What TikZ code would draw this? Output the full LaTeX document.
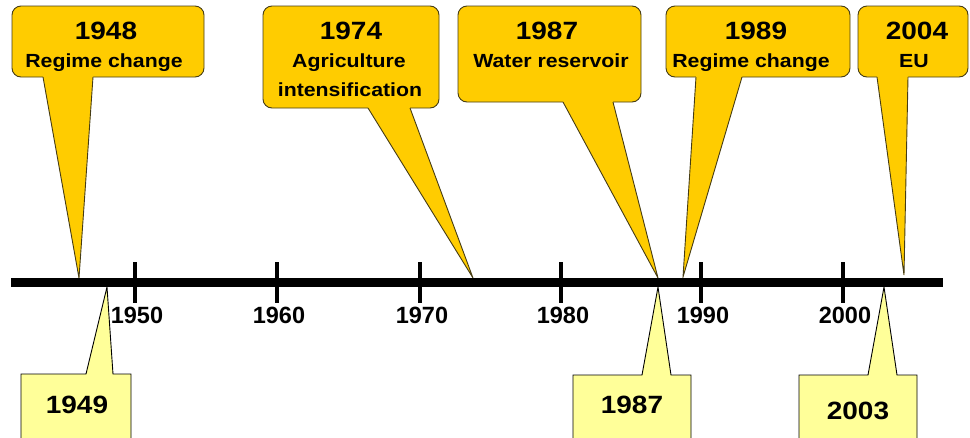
\documentclass[tikz,border=0pt]{standalone}
\usepackage{fontspec}
\setmainfont{Liberation Sans}
\newfontfamily\boxfont{Liberation Sans}[FakeStretch=1.12]
\definecolor{calloutgold}{RGB}{255,204,0}
\definecolor{calloutpale}{RGB}{255,255,153}
\definecolor{calloutedge}{RGB}{70,60,20}

\begin{document}
\begin{tikzpicture}[x=1pt, y=-1pt,
    topbox/.style={draw=calloutedge, fill=calloutgold, line width=0.9pt},
    pointer/.style={draw=calloutedge, line width=0.9pt},
    botbox/.style={draw=black, fill=calloutpale, line width=0.9pt},
    yearbig/.style={font=\boxfont\bfseries\fontsize{25}{28}\selectfont, anchor=base, inner sep=0pt},
    eventtxt/.style={font=\boxfont\bfseries\fontsize{19}{22}\selectfont, anchor=base, inner sep=0pt},
    yearlow/.style={font=\boxfont\bfseries\fontsize{25}{28}\selectfont, anchor=base, inner sep=0pt},
    ticklab/.style={font=\bfseries\fontsize{23.5}{26}\selectfont, anchor=base, inner sep=0pt}]
    \useasboundingbox (0,0) rectangle (970,437);
    % pointer tips on the time axis
    \coordinate (p1948) at (79,278);
    \coordinate (p1974) at (473,278);
    \coordinate (p1987) at (658,278);
    \coordinate (p1989) at (683,277);
    \coordinate (p2004) at (904,275);
    \coordinate (q1949) at (107,287);
    \coordinate (q1987) at (658,287);
    \coordinate (q2003) at (884,287);
    % 1948
    \draw[topbox, rounded corners=9pt] (12,6) rectangle (204,77);
    \fill[calloutgold] (43,77) -- (p1948) -- (93,77) -- (93,74) -- (43,74) -- cycle;
    \draw[pointer] (43,77) -- (p1948) -- (93,77);
    \node[yearbig] (y1948) at (106,39) {1948};
    \node[eventtxt] (e1948) at (104,67) {Regime change};
    % 1974
    \draw[topbox, rounded corners=9pt] (263,6) rectangle (439,108);
    \fill[calloutgold] (368,108) -- (p1974) -- (410,108) -- (410,105) -- (368,105) -- cycle;
    \draw[pointer] (368,108) -- (p1974) -- (410,108);
    \node[yearbig] (y1974) at (351,39) {1974};
    \node[eventtxt] (e1974a) at (349,67) {Agriculture};
    \node[eventtxt] (e1974b) at (350,96) {intensification};
    % 1987
    \draw[topbox, rounded corners=9pt] (458,6) rectangle (641,102);
    \fill[calloutgold] (563,102) -- (p1987) -- (613,102) -- (613,99) -- (563,99) -- cycle;
    \draw[pointer] (563,102) -- (p1987) -- (613,102);
    \node[yearbig] (y1987) at (547,39) {1987};
    \node[eventtxt] (e1987) at (551,67) {Water reservoir};
    % 1989
    \draw[topbox, rounded corners=9pt] (666,6) rectangle (850,77);
    \fill[calloutgold] (696,77) -- (p1989) -- (742,77) -- (742,74) -- (696,74) -- cycle;
    \draw[pointer] (696,77) -- (p1989) -- (742,77);
    \node[yearbig] (y1989) at (756,39) {1989};
    \node[eventtxt] (e1989) at (751,67) {Regime change};
    % 2004
    \draw[topbox, rounded corners=9pt] (858,6) rectangle (968,77);
    \fill[calloutgold] (877,77) -- (p2004) -- (908,77) -- (908,74) -- (877,74) -- cycle;
    \draw[pointer] (877,77) -- (p2004) -- (908,77);
    \node[yearbig] (y2004) at (917,39) {2004};
    \node[eventtxt] (e2004) at (914,67) {EU};
    % lower callouts, cut by the bottom edge
    \draw[botbox] (86,374) -- (q1949) -- (113,374) -- (131,374) -- (131,445) -- (21,445) -- (21,374) -- cycle;
    \node[yearlow] (y1949) at (77,413) {1949};
    \draw[botbox] (642,375) -- (q1987) -- (671,375) -- (691,375) -- (691,445) -- (573,445) -- (573,375) -- cycle;
    \node[yearlow] (b1987) at (632,413) {1987};
    \draw[botbox] (868,375) -- (q2003) -- (897,375) -- (917,375) -- (917,445) -- (799,445) -- (799,375) -- cycle;
    \node[yearlow] (y2003) at (858,419) {2003};
    % time axis
    \coordinate (axisL) at (11,282.5);
    \coordinate (axisR) at (943,282.5);
    \draw[line width=9pt] (axisL) -- (axisR);
    \foreach \x/\yr in {135/1950, 277/1960, 420/1970, 561/1980, 701/1990, 843/2000} {
      \draw[line width=4.5pt] (\x,262) -- (\x,303);
      \node[ticklab] (t\yr) at (\x+2,323) {\yr};
    }
  \end{tikzpicture}
\end{document}
